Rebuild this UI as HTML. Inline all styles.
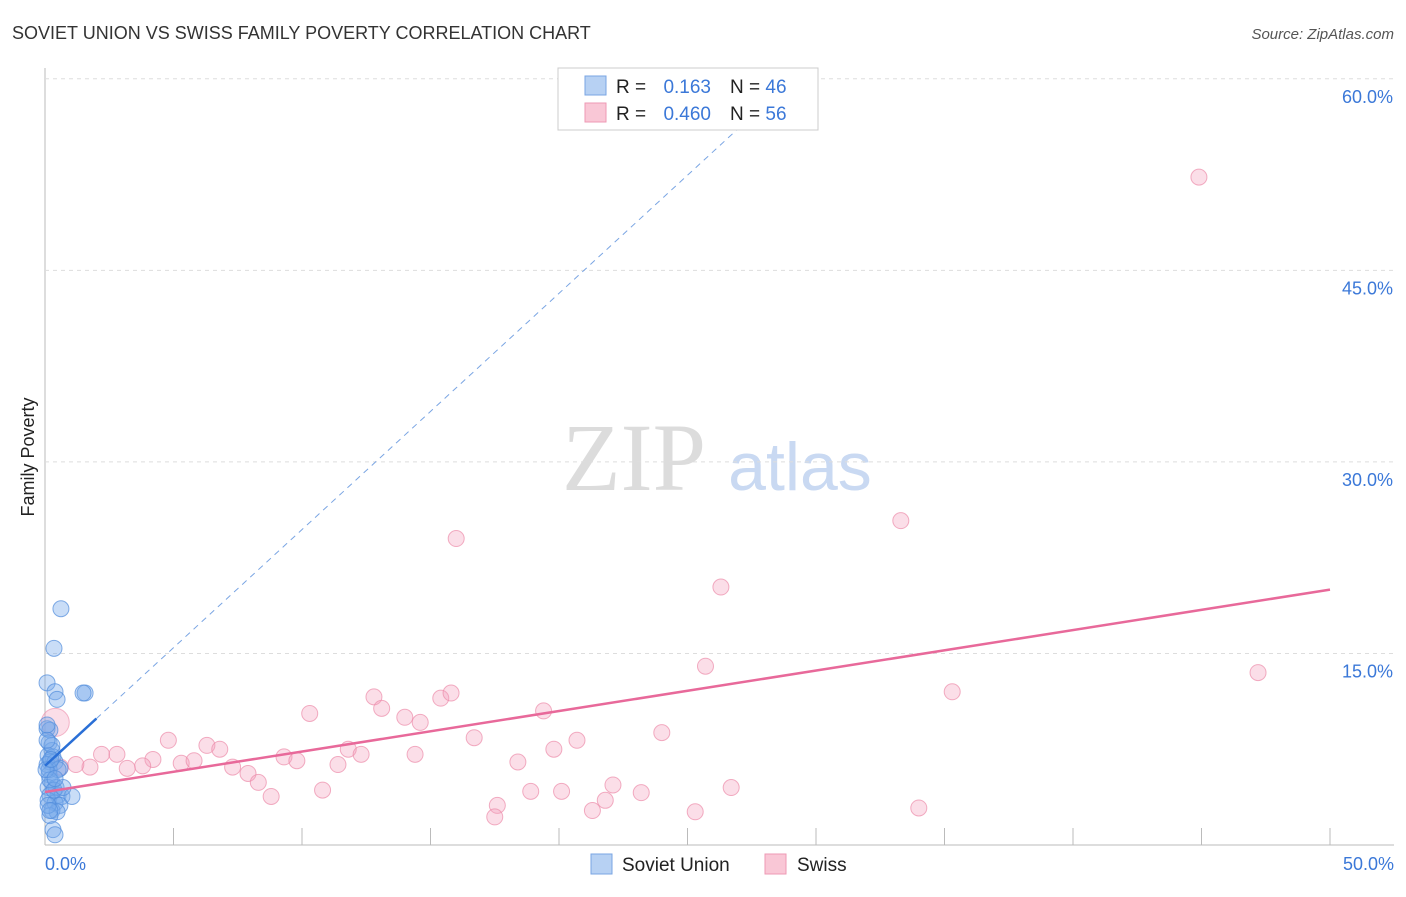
<!DOCTYPE html>
<html><head><meta charset="utf-8"><style>
body{margin:0;background:#fff;font-family:"Liberation Sans",sans-serif}
</style></head><body>
<svg id="c" width="1406" height="892" xmlns="http://www.w3.org/2000/svg">
<text x="12" y="39" font-size="18" fill="#333">SOVIET UNION VS SWISS FAMILY POVERTY CORRELATION CHART</text>
<text x="1394" y="39" font-size="15" fill="#555" font-style="italic" text-anchor="end">Source: ZipAtlas.com</text>
<text x="634" y="490" font-size="96" fill="#dcdcdc" font-family="Liberation Serif,serif" text-anchor="middle">ZIP</text>
<text x="800" y="490" font-size="68" fill="#c9d9f2" text-anchor="middle">atlas</text>
<text transform="translate(34,457) rotate(-90)" font-size="18" fill="#222" text-anchor="middle">Family Poverty</text>
<g id="grid"></g><g id="marks"></g>
<g>
<rect x="558" y="68" width="260" height="62" fill="#fff" stroke="#ccc"/>
<rect x="585" y="76" width="21" height="19" fill="#b7d1f3" stroke="#7aa5e3"/>
<rect x="585" y="103" width="21" height="19" fill="#f9c7d6" stroke="#ee9ab4"/>
<text x="616" y="93" font-size="19" fill="#222">R =</text>
<text x="711" y="93" font-size="19" fill="#3b78d8" text-anchor="end">0.163</text>
<text x="730" y="93" font-size="19" fill="#222">N = <tspan fill="#3b78d8">46</tspan></text>
<text x="616" y="120" font-size="19" fill="#222">R =</text>
<text x="711" y="120" font-size="19" fill="#3b78d8" text-anchor="end">0.460</text>
<text x="730" y="120" font-size="19" fill="#222">N = <tspan fill="#3b78d8">56</tspan></text>
</g>
<g>
<rect x="591" y="854" width="21" height="20" fill="#b7d1f3" stroke="#7aa5e3"/>
<text x="622" y="871" font-size="19" fill="#222">Soviet Union</text>
<rect x="765" y="854" width="21" height="20" fill="#f9c7d6" stroke="#ee9ab4"/>
<text x="797" y="871" font-size="19" fill="#222">Swiss</text>
</g>
</svg>
<script>
const xTicks=[0,5,10,15,20,25,30,35,40,45,50];
const yTicks=[15,30,45,60];
const blueX=[0.62,0.35,1.56,1.48,0.08,0.39,0.47,0.08,0.19,0.16,0.27,0.12,0.31,0.19,0.08,0.39,0.58,0.16,0.27,0.12,0.43,0.19,0.51,0.66,1.05,0.12,0.39,0.58,0.27,0.47,0.19,0.31,0.39,0.16,0.27,0.08,0.51,0.19,0.35,0.12,0.04,0.7,0.19,0.08,0.23,0.39];
const blueY=[18.5,15.4,11.9,11.9,12.7,12.0,11.4,9.1,9.0,8.0,7.4,7.0,6.9,6.5,6.3,6.5,6.0,5.5,4.9,4.5,4.5,3.9,3.9,3.8,3.8,3.5,3.3,3.1,2.7,2.6,2.3,1.2,0.8,5.9,7.8,8.2,5.9,5.1,4.3,3.1,5.9,4.5,2.7,9.4,6.7,5.2];
const pinkX=[44.9,33.3,16.0,26.3,25.7,47.2,35.3,10.3,12.8,13.1,14.0,14.6,15.4,15.8,19.4,16.7,24.0,20.7,19.8,4.8,6.3,6.8,2.2,2.8,4.2,5.3,5.8,3.8,3.2,1.75,1.2,7.3,7.9,8.3,8.8,9.3,9.8,11.4,11.8,12.3,14.4,10.8,18.4,18.9,20.1,22.1,21.8,21.3,23.2,26.7,25.3,34.0,17.6,17.5,0.6];
const pinkY=[52.3,25.4,24.0,20.2,14.0,13.5,12.0,10.3,11.6,10.7,10.0,9.6,11.5,11.9,10.5,8.4,8.8,8.2,7.5,8.2,7.8,7.5,7.1,7.1,6.7,6.4,6.6,6.2,6.0,6.1,6.3,6.1,5.6,4.9,3.8,6.9,6.6,6.3,7.5,7.1,7.1,4.3,6.5,4.2,4.2,4.7,3.5,2.7,4.1,4.5,2.6,2.9,3.1,2.2,6.1];
const bigPink=[0.4,9.6];
const blueFit=[6.2,1.85];   // intercept, slope
const pinkFit=[4.15,0.317];
const X=v=>45+v*25.7, Y=v=>845-v*12.77;
const NS='http://www.w3.org/2000/svg';
function mk(p,t,a){const e=document.createElementNS(NS,t);for(const k in a)e.setAttribute(k,a[k]);p.appendChild(e);return e;}
const g=document.getElementById('grid'), m=document.getElementById('marks');
let ax=mk(g,'line',{x1:45,y1:68,x2:45,y2:845,stroke:'#bbb'});


let bx=mk(g,'line',{x1:45,y1:845,x2:1394,y2:845,stroke:'#bbb'});


yTicks.forEach(t=>{
 const l=mk(g,'line',{x1:45,y1:Y(t),x2:1394,y2:Y(t),stroke:'#ddd','stroke-dasharray':'4,4'});
 
 
 const tx=mk(g,'text',{x:1393,y:Y(t)+24,'font-size':18,fill:'#3b78d8','text-anchor':'end'});
 tx.textContent=t.toFixed(1)+'%';
 
 
});
xTicks.forEach((t,i)=>{
 if(i>0){const l=mk(g,'line',{x1:X(t),y1:828,x2:X(t),y2:845,stroke:'#bbb'});
 
 }
});
[[0,'start',45],[50,'end',1394]].forEach(([t,a,x])=>{
 const tx=mk(g,'text',{x:x,y:870,'font-size':18,fill:'#3b78d8','text-anchor':a});
 tx.textContent=t.toFixed(1)+'%';
 
 
});
let bp=mk(m,'circle',{cx:X(bigPink[0]),cy:Y(bigPink[1]),r:14,fill:'rgba(244,160,190,0.35)',stroke:'rgba(236,140,170,0.6)'});


pinkX.forEach((x,i)=>{
 const c=mk(m,'circle',{cx:X(x),cy:Y(pinkY[i]),r:8,fill:'rgba(244,160,190,0.35)',stroke:'rgba(236,140,170,0.7)'});
 
 
});
blueX.forEach((x,i)=>{
 const c=mk(m,'circle',{cx:X(x),cy:Y(blueY[i]),r:8,fill:'rgba(120,170,235,0.4)',stroke:'rgba(80,140,220,0.7)'});
 
 
});
let pl=mk(m,'line',{x1:X(0),y1:Y(pinkFit[0]),x2:X(50),y2:Y(pinkFit[0]+50*pinkFit[1]),stroke:'#e8699a','stroke-width':2.5});


const bEnd=(60-blueFit[0])/blueFit[1];
let bd=mk(m,'line',{x1:X(2),y1:Y(blueFit[0]+2*blueFit[1]),x2:X(bEnd),y2:Y(60),stroke:'#7aa5e3','stroke-width':1,'stroke-dasharray':'6,5'});


let bl=mk(m,'line',{x1:X(0),y1:Y(blueFit[0]),x2:X(2),y2:Y(blueFit[0]+2*blueFit[1]),stroke:'#2a6fd6','stroke-width':2.5});


</script>
</body></html>
